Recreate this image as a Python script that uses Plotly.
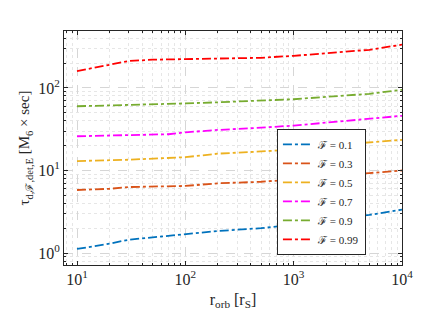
import plotly.graph_objects as go

x_blue = [10, 20, 30, 100, 200, 500, 1000, 2000, 5000, 10000]
y_blue = [1.12, 1.3, 1.45, 1.7, 1.85, 2.0, 2.2, 2.5, 2.9, 3.35]
x_orange = [10, 20, 30, 100, 200, 500, 1000, 2000, 5000, 10000]
y_orange = [5.8, 6.0, 6.3, 6.5, 7.0, 7.3, 7.8, 8.5, 9.3, 10.0]
x_yellow = [10, 30, 100, 200, 500, 1000, 2000, 5000, 10000]
y_yellow = [13.0, 13.5, 14.5, 16.0, 17.0, 18.0, 20.0, 22.0, 23.5]
x_magenta = [10, 70, 100, 200, 500, 1000, 2000, 5000, 10000]
y_magenta = [26.0, 27.5, 29.0, 31.0, 33.0, 35.0, 38.0, 42.0, 46.0]
x_green = [10, 30, 100, 200, 500, 1000, 2000, 5000, 10000]
y_green = [60.0, 62.0, 65.0, 67.0, 70.0, 73.0, 78.0, 85.0, 95.0]
x_red = [10, 15, 20, 30, 50, 100, 200, 500, 1000, 2000, 5000, 10000]
y_red = [160, 178, 188, 212, 220, 224, 228, 232, 245, 262, 290, 335]

labels = ["ℱ = 0.1", "ℱ = 0.3", "ℱ = 0.5", "ℱ = 0.7", "ℱ = 0.9", "ℱ = 0.99"]
colors = ["#0072BD", "#D95319", "#EDB120", "#FF00FF", "#77AC30", "#FF0000"]
xs = [x_blue, x_orange, x_yellow, x_magenta, x_green, x_red]
ys = [y_blue, y_orange, y_yellow, y_magenta, y_green, y_red]

x_tickvals = [10, 100, 1000, 10000]
x_ticktext = ["10<sup>1</sup>", "10<sup>2</sup>", "10<sup>3</sup>", "10<sup>4</sup>"]
y_tickvals = [1, 10, 100]
y_ticktext = ["10<sup>0</sup>", "10<sup>1</sup>", "10<sup>2</sup>"]
x_minor = [m * d for d in [1, 10, 100, 1000] for m in range(2, 10)]
y_minor = [m * d for d in [0.1, 1, 10, 100] for m in range(2, 10)]

fig = go.Figure()
for xv, yv, lab, c in zip(xs, ys, labels, colors):
    fig.add_trace(go.Scatter(x=xv, y=yv, mode="lines", name=lab,
                             line=dict(color=c, width=1.8, dash="dashdot")))

font = "Liberation Serif"
axis_common = dict(
    type="log", showline=True, linecolor="#262626", linewidth=1, mirror="ticks",
    ticks="inside", ticklen=4, tickcolor="#262626",
    showgrid=True, gridcolor="#d6d6d6", griddash="dash", gridwidth=1,
    zeroline=False,
    tickfont=dict(family=font, size=16, color="#262626"),
)
minor_common = dict(showgrid=True, gridcolor="#e6e6e6", griddash="dot", ticks="inside",
                    ticklen=2, tickcolor="#262626")

fig.update_layout(
    width=436, height=313,
    margin=dict(l=56, r=42, t=23, b=56),
    paper_bgcolor="white", plot_bgcolor="white",
    font=dict(family=font, color="#262626"),
    xaxis=dict(axis_common, range=[0.88, 4.0],
               tickvals=x_tickvals, ticktext=x_ticktext,
               minor=dict(minor_common, tickvals=x_minor),
               title=dict(text="r<sub>orb</sub> [r<sub>S</sub>]", font=dict(size=16), standoff=6)),
    yaxis=dict(axis_common, range=[-0.145, 2.69],
               tickvals=y_tickvals, ticktext=y_ticktext,
               minor=dict(minor_common, tickvals=y_minor),
               title=dict(text="τ<sub>d,ℱ,det,E</sub> [M<sub>6</sub> × sec]", font=dict(size=15), standoff=4)),
    legend=dict(x=0.63, y=0.043, xanchor="left", yanchor="bottom",
                bgcolor="white", bordercolor="#262626", borderwidth=1,
                font=dict(family=font, size=11, color="#262626"),
                itemwidth=30, tracegroupgap=0),
    showlegend=True,
)

fig.write_html("out.html")
